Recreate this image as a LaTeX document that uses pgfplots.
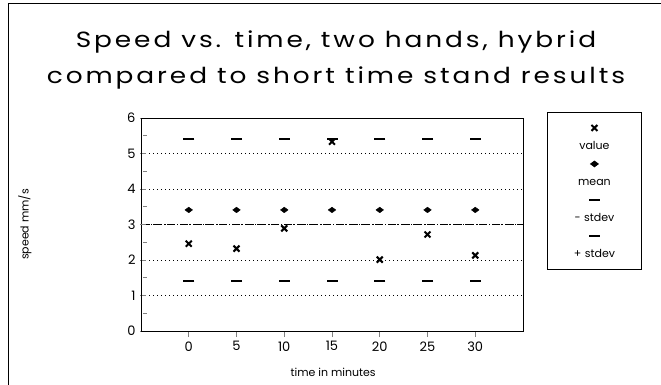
\documentclass[border=0pt]{standalone}
\usepackage{fontspec}
\setmainfont{Poppins}
\usepackage{pgfplots}
\pgfplotsset{compat=1.18}
\begin{document}
\begin{tikzpicture}
\path[use as bounding box] (0,0) rectangle (661bp,385bp);
\draw[line width=0.8bp] (8bp,0) -- (8bp,382bp) -- (661bp,382bp);
\node[xscale=1.2, font={\fontsize{22bp}{22bp}\selectfont\addfontfeatures{LetterSpace=11}}] at (336bp,343bp) {Speed vs. time, two hands, hybrid};
\node[xscale=1.2, font={\fontsize{22bp}{22bp}\selectfont\addfontfeatures{LetterSpace=11}}] at (336bp,307bp) {compared to short time stand results};
\begin{axis}[
  at={(141bp,54bp)}, anchor=south west,
  scale only axis, width=382bp, height=213bp,
  xmin=-5, xmax=35, ymin=0, ymax=6,
  xtick={0,5,...,30}, ytick={0,...,6},
  minor y tick num=1,
  xtick pos=left, ytick pos=left,
  tick align=center,
  major tick length=6bp, minor tick length=4bp,
  xtick style={yshift=-3bp, line width=0.8bp},
  ytick style={xshift=2bp, line width=0.6bp},
  minor y tick style={xshift=2bp, line width=0.6bp},
  axis line style={line width=0.9bp},
  tick label style={font=\fontsize{13bp}{13bp}\selectfont},
  /pgf/number format/assume math mode=true,
  xticklabel style={yshift=-4bp},
  yticklabel style={xshift=1bp},
  ymajorgrids,
  major grid style={black, line width=0.6bp, dash pattern=on 1bp off 3bp},
  extra y ticks={3}, extra y tick labels={},
  extra y tick style={grid=major, major grid style={black, line width=0.8bp, dash pattern=on 8bp off 2bp on 1bp off 2bp}},
  xlabel={time in minutes},
  label style={font=\fontsize{11bp}{11bp}\selectfont},
  xlabel style={at={(axis description cs:0.503,-0.192)}, anchor=center},
  clip=false,
  legend style={at={(1,1)}, anchor=north west, xshift=24bp, yshift=6bp,
    draw=black, line width=0.9bp, column sep=0pt, inner xsep=0pt, inner ysep=9.5bp,
    cells={anchor=center},
    nodes={font=\fontsize{11bp}{11bp}\selectfont, text width=86bp, align=center,
      text height=8bp, text depth=2bp, inner xsep=4bp, inner ysep=0pt}},
  legend style={row sep=6bp},
  legmark/.style={legend image code/.code={\path[draw=none] (0,0) -- (0,25bp); \draw[##1,overlay] plot coordinates {(47bp,19bp)};}},
]
\addplot[only marks, mark=x, mark size=4.2bp, line width=2bp, legmark]
  coordinates {(0,2.46)(5,2.32)(10,2.89)(15,5.33)(20,2.01)(25,2.72)(30,2.13)};
\addlegendentry{value}
\addplot[only marks, mark=diamond*, mark size=2.8bp, mark options={xscale=1.8}, legmark]
  coordinates {(0,3.41)(5,3.41)(10,3.41)(15,3.41)(20,3.41)(25,3.41)(30,3.41)};
\addlegendentry{mean}
\addplot[only marks, mark=-, mark size=5.5bp, line width=2bp, legmark]
  coordinates {(0,1.40)(5,1.40)(10,1.40)(15,1.40)(20,1.40)(25,1.40)(30,1.40)};
\addlegendentry{- stdev}
\addplot[only marks, mark=-, mark size=5.5bp, line width=2bp, legmark]
  coordinates {(0,5.40)(5,5.40)(10,5.40)(15,5.40)(20,5.40)(25,5.40)(30,5.40)};
\addlegendentry{+ stdev}
\node[rotate=90, font=\fontsize{11bp}{11bp}\selectfont] at (axis description cs:-0.304,0.5) {speed mm/s};
\end{axis}
\end{tikzpicture}
\end{document}
